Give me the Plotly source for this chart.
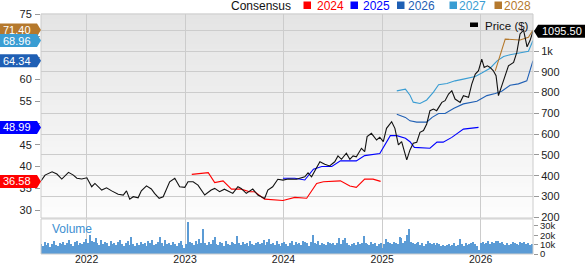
import plotly.graph_objects as go
import pandas as pd

# ---------------- data ----------------
price_dates = [
    "2021-07-16", "2021-07-31", "2021-08-26", "2021-09-13", "2021-10-01", "2021-10-26",
    "2021-11-13", "2021-11-26", "2021-12-14", "2022-01-02", "2022-01-20", "2022-02-01",
    "2022-02-26", "2022-03-16", "2022-04-04", "2022-04-28", "2022-05-17", "2022-05-29",
    "2022-06-10", "2022-06-23", "2022-07-11", "2022-07-23", "2022-08-11", "2022-08-29",
    "2022-09-10", "2022-09-27", "2022-10-12", "2022-11-05", "2022-11-24", "2022-12-12",
    "2022-12-31", "2023-01-12", "2023-01-31", "2023-02-18", "2023-03-15", "2023-04-08",
    "2023-04-21", "2023-05-09", "2023-05-27", "2023-06-15", "2023-06-27", "2023-07-16",
    "2023-07-28", "2023-08-16", "2023-09-09", "2023-09-28", "2023-10-23", "2023-11-04",
    "2023-11-22", "2023-12-11", "2023-12-30", "2024-01-18", "2024-02-05", "2024-02-18",
    "2024-03-20", "2024-04-01", "2024-04-14", "2024-05-15", "2024-06-02", "2024-06-20",
    "2024-07-09", "2024-07-21", "2024-08-03", "2024-08-21", "2024-09-03", "2024-09-15",
    "2024-09-27", "2024-10-16", "2024-10-28", "2024-11-06", "2024-11-22", "2024-12-11",
    "2024-12-23", "2025-01-05", "2025-01-17", "2025-02-05", "2025-02-17", "2025-03-02",
    "2025-03-14", "2025-04-02", "2025-04-14", "2025-04-26", "2025-05-09", "2025-05-21",
    "2025-06-03", "2025-06-15", "2025-06-27", "2025-07-10", "2025-07-22", "2025-08-10",
    "2025-08-22", "2025-09-04", "2025-09-16", "2025-09-28", "2025-10-17", "2025-10-29",
    "2025-11-17", "2025-11-29", "2025-12-12", "2025-12-24", "2026-01-05", "2026-01-14",
    "2026-01-26", "2026-02-05", "2026-02-17", "2026-02-27", "2026-03-08", "2026-03-20",
    "2026-04-02", "2026-04-14", "2026-05-03", "2026-05-15", "2026-05-27", "2026-06-09",
    "2026-06-22", "2026-07-03", "2026-07-14",
]
price_values = [
    375, 403, 419, 408, 384, 416,
    403, 388, 384, 390, 347, 363,
    331, 342, 327, 311, 307, 327,
    287, 299, 294, 327, 351, 336,
    315, 291, 299, 371, 388, 347,
    344, 371, 371, 355, 307, 331,
    339, 323, 335, 323, 315, 347,
    339, 315, 336, 307, 291, 331,
    347, 383, 379, 384, 384, 383,
    395, 414, 395, 467, 455, 447,
    467, 495, 479, 508, 479, 495,
    491, 532, 516, 588, 604, 572,
    585, 564, 628, 660, 628, 548,
    564, 476, 524, 556, 561, 609,
    617, 649, 713, 721, 713, 753,
    761, 793, 809, 769, 753, 785,
    777, 841, 889, 905, 961, 921,
    929, 921, 905, 881, 785, 833,
    881, 929, 945, 993, 1082, 1100,
    1020, 1050, 1095.50,
]

eps2024_dates = ["2023-01-26", "2023-03-28", "2023-04-21", "2023-05-22", "2023-06-22",
                 "2023-07-28", "2023-08-28", "2023-09-16", "2023-10-23", "2023-12-30",
                 "2024-02-12", "2024-03-27", "2024-05-03", "2024-05-28", "2024-07-30",
                 "2024-09-03", "2024-09-27", "2024-10-28", "2024-11-28", "2024-12-26"]
eps2024_values = [38.2, 38.6, 36.3, 36.7, 34.8, 34.8, 34.2, 34.2, 32.5, 32.2,
                  32.9, 32.7, 36.1, 36.5, 36.7, 35.5, 35.2, 37.1, 37.1, 36.58]

eps2025_dates = ["2023-12-30", "2024-02-12", "2024-03-20", "2024-04-21", "2024-05-22",
                 "2024-06-28", "2024-07-30", "2024-09-27", "2024-10-28", "2024-12-23",
                 "2025-01-31", "2025-02-24", "2025-03-28", "2025-04-14", "2025-04-30",
                 "2025-06-27", "2025-07-23", "2025-08-15", "2025-09-16", "2025-10-29",
                 "2025-12-24"]
eps2025_values = [37.3, 37.3, 36.9, 39.4, 40.0, 40.0, 41.3, 41.3, 42.5, 43.0,
                  47.1, 47.1, 46.5, 45.7, 44.4, 44.2, 45.6, 45.6, 46.7, 48.6, 48.99]

eps2026_dates = ["2025-02-24", "2025-03-28", "2025-04-14", "2025-05-09", "2025-06-15",
                 "2025-07-05", "2025-07-29", "2025-08-22", "2025-09-24", "2025-10-29",
                 "2025-12-18", "2026-01-24", "2026-02-24", "2026-03-20", "2026-04-20",
                 "2026-05-21", "2026-06-21", "2026-07-14"]
eps2026_values = [52.0, 51.3, 50.5, 50.2, 50.2, 51.3, 52.2, 52.2, 53.4, 54.4,
                  55.0, 56.3, 56.8, 57.3, 58.7, 59.0, 59.7, 64.34]

eps2027_dates = ["2025-02-24", "2025-03-28", "2025-04-14", "2025-04-26", "2025-05-21",
                 "2025-06-15", "2025-07-10", "2025-07-29", "2025-08-29", "2025-09-28",
                 "2025-10-29", "2025-12-12", "2026-01-05", "2026-02-05", "2026-03-03",
                 "2026-03-27", "2026-04-20", "2026-05-15", "2026-06-27", "2026-07-14"]
eps2027_values = [57.4, 57.8, 56.4, 54.8, 54.5, 55.3, 57.1, 58.8, 59.1, 59.7,
                  60.1, 60.7, 61.5, 62.6, 64.3, 65.3, 65.7, 66.0, 66.5, 68.96]

eps2028_dates = ["2026-02-24", "2026-04-02", "2026-05-27", "2026-06-27", "2026-07-14"]
eps2028_values = [62.0, 69.3, 69.1, 69.7, 71.40]

volume_start = "2021-07-16"
volume_k = [
    11, 9, 13, 10, 12, 8, 11, 14, 10, 9, 12, 11, 13,
    10, 12, 15, 11, 9, 13, 14, 10, 12, 11, 13, 16, 12,
    20, 14, 13, 17, 12, 10, 15, 11, 13, 12, 9, 14, 11,
    12, 10, 13, 15, 11, 9, 12, 14, 10, 18, 11, 9, 12,
    10, 13, 11, 12, 9, 14, 12, 15, 10, 11, 13, 18, 12,
    9, 15, 11, 12, 10, 13, 11, 9, 12, 14, 10, 6, 11,
    34, 13, 12, 10, 14, 11, 16, 12, 27, 12, 10, 13, 11,
    15, 18, 11, 10, 13, 12, 9, 14, 11, 10, 13, 12, 11,
    19, 12, 10, 13, 11, 12, 9, 14, 11, 10, 12, 13, 11,
    12, 15, 10, 13, 16, 11, 12, 10, 14, 11, 9, 12, 13,
    11, 9, 12, 14, 10, 13, 11, 12, 10, 14, 13, 12, 9,
    13, 20, 12, 11, 14, 10, 12, 11, 10, 13, 12, 11, 12,
    10, 12, 17, 11, 15, 17, 12, 10, 9, 11, 12, 10, 13,
    11, 12, 19, 12, 11, 10, 13, 11, 12, 9, 11, 12, 6,
    11, 16, 13, 12, 11, 13, 12, 11, 18, 17, 12, 14, 20,
    27, 13, 12, 11, 12, 13, 10, 12, 9, 11, 14, 12, 11,
    12, 10, 12, 11, 9, 10, 9, 10, 11, 9, 10, 12, 9,
    10, 16, 11, 9, 12, 10, 11, 12, 13, 11, 9, 4, 12,
    13, 11, 12, 14, 11, 13, 12, 14, 14, 12, 13, 11, 10,
    12, 10, 11, 13, 12, 11, 10, 13, 12, 13, 11, 12, 10,
    11,
]
volume_dates = pd.date_range(volume_start, periods=len(volume_k), freq="7D")

left_ticks = [30, 35, 40, 45, 50, 55, 60, 65, 70, 75]
left_labels = ["30", "35", "40", "45", "", "55", "60", "", "", "75"]  # 50/65/70 sit under badges
right_ticks = [200, 300, 400, 500, 600, 700, 800, 900, 1000, 1100]
right_labels = ["200", "300", "400", "500", "600", "700", "800", "900", "1k", ""]
vol_ticks = [0, 10, 20, 30]
vol_labels = ["0", "10k", "20k", "30k"]

# ---------------- style ----------------
FONT = "Liberation Sans, Arial, sans-serif"
W, H = 585, 264
ML, MR, MT, MB = 41, 52, 14, 10
PW, PH = W - ML - MR, H - MT - MB
VOL_FRAC = 0.15
GRID = "#cccccc"

C2024 = "#ff0000"
C2025 = "#0000ff"
C2026 = "#1f5fb4"
C2027 = "#3a9dd3"
C2028 = "#b5792d"
CVOL = "#5b9bd5"


def px(x):
    return (x - ML) / PW


def py(y):
    return (H - MB - y) / PH


fig = go.Figure()

fig.add_trace(go.Bar(x=volume_dates, y=volume_k, xaxis="x", yaxis="y3",
                     marker=dict(color=CVOL, line=dict(width=0)), width=5.2 * 86400000,
                     showlegend=False, hoverinfo="skip"))

for d, v, c in [(eps2024_dates, eps2024_values, C2024),
                (eps2025_dates, eps2025_values, C2025),
                (eps2026_dates, eps2026_values, C2026),
                (eps2027_dates, eps2027_values, C2027),
                (eps2028_dates, eps2028_values, C2028)]:
    fig.add_trace(go.Scatter(x=d, y=v, mode="lines", line=dict(color=c, width=1.1),
                             xaxis="x", yaxis="y", showlegend=False))

fig.add_trace(go.Scatter(x=price_dates, y=price_values, mode="lines",
                         line=dict(color="#111111", width=1.1),
                         xaxis="x", yaxis="y2", showlegend=False))

shapes = []
# gradient background for price panel
n = 40
for i in range(n):
    f0 = i / n
    f1 = (i + 1) / n
    t = (f0 + f1) / 2  # 0 bottom -> 1 top
    g = int(round(253 - (253 - 228) * t))
    shapes.append(dict(type="rect", xref="paper", yref="paper",
                       x0=0, x1=1, y0=VOL_FRAC + (1 - VOL_FRAC) * f0,
                       y1=VOL_FRAC + (1 - VOL_FRAC) * f1 + 0.002,
                       fillcolor=f"rgb({g},{g},{g})", line=dict(width=0), layer="below"))
# borders
shapes.append(dict(type="rect", xref="paper", yref="paper", x0=0, x1=1, y0=VOL_FRAC, y1=1,
                   line=dict(color=GRID, width=1), layer="above"))
shapes.append(dict(type="rect", xref="paper", yref="paper", x0=0, x1=1, y0=0, y1=VOL_FRAC - 0.004,
                   line=dict(color=GRID, width=1), layer="above"))

annotations = []
# left badges
for val, col, txt in [(71.40, C2028, "71.40"), (68.96, C2027, "68.96"), (64.34, C2026, "64.34"),
                      (48.99, C2025, "48.99"), (36.58, C2024, "36.58")]:
    shapes.append(dict(type="path", xref="paper", yref="y", xsizemode="pixel", ysizemode="pixel",
                       xanchor=0, yanchor=val,
                       path="M-41,-6.5 L-4,-6.5 L0,0 L-4,6.5 L-41,6.5 Z",
                       fillcolor=col, line=dict(width=0), layer="above"))
    annotations.append(dict(xref="paper", yref="y", x=0, y=val, xanchor="left", yanchor="middle",
                            xshift=-40, text=txt, showarrow=False,
                            font=dict(family=FONT, size=11, color="white")))
# right price badge
shapes.append(dict(type="path", xref="paper", yref="y2", xsizemode="pixel", ysizemode="pixel",
                   xanchor=1, yanchor=price_values[-1],
                   path="M1,0 L5,-6.5 L52,-6.5 L52,6.5 L5,6.5 Z",
                   fillcolor="#000000", line=dict(width=0), layer="above"))
annotations.append(dict(xref="paper", yref="y2", x=1, y=price_values[-1], xanchor="left",
                        yanchor="middle", xshift=7, text=f"{price_values[-1]:.2f}", showarrow=False,
                        font=dict(family=FONT, size=11, color="white")))

# top legend
annotations.append(dict(xref="paper", yref="paper", x=px(229), y=py(5.5), xanchor="left",
                        yanchor="middle", text="Consensus", showarrow=False,
                        font=dict(family=FONT, size=12, color="#111111")))
for x_sq, x_tx, col, txt in [(303.5, 315, C2024, "2024"), (350.5, 361, C2025, "2025"),
                             (397, 405.5, C2026, "2026"), (449.5, 456.5, C2027, "2027"),
                             (494.5, 501.5, C2028, "2028")]:
    shapes.append(dict(type="rect", xref="paper", yref="paper", x0=px(x_sq), x1=px(x_sq + 7.5),
                       y0=py(9), y1=py(1.5), fillcolor=col, line=dict(width=0)))
    annotations.append(dict(xref="paper", yref="paper", x=px(x_tx), y=py(5.5), xanchor="left",
                            yanchor="middle", text=txt, showarrow=False,
                            font=dict(family=FONT, size=12, color=col)))

# price legend inside plot
shapes.append(dict(type="rect", xref="paper", yref="paper", x0=px(470), x1=px(478),
                   y0=py(27), y1=py(22.5), fillcolor="#000000", line=dict(width=0)))
annotations.append(dict(xref="paper", yref="paper", x=px(483), y=py(25.5), xanchor="left",
                        yanchor="middle", text="Price ($)", showarrow=False,
                        font=dict(family=FONT, size=11.5, color="#111111")))
# Volume label
annotations.append(dict(xref="paper", yref="paper", x=px(50), y=py(229), xanchor="left",
                        yanchor="middle", text="Volume", showarrow=False,
                        font=dict(family=FONT, size=12, color="#3d8fd1")))

tickfont = dict(family=FONT, size=11, color="#222222")

fig.update_layout(
    width=W, height=H,
    margin=dict(l=ML, r=MR, t=MT, b=MB, pad=0),
    paper_bgcolor="white", plot_bgcolor="white",
    showlegend=False, bargap=0,
    shapes=shapes, annotations=annotations,
    xaxis=dict(type="date", range=["2021-07-16", "2026-07-14"], anchor="y3",
               dtick="M12", tick0="2022-01-01", tickformat="%Y",
               showgrid=True, gridcolor=GRID, gridwidth=1, zeroline=False,
               ticks="", showline=False, tickfont=dict(family=FONT, size=10.5, color="#222222"),
               automargin=False, ticklabelstandoff=-3),
    yaxis=dict(domain=[VOL_FRAC, 1], range=[28.16, 75.07], side="left",
               tickvals=left_ticks, ticktext=left_labels, showgrid=False, zeroline=False,
               ticks="outside", ticklen=5, tickcolor="#999999",
               tickfont=tickfont, automargin=False, ticklabelstandoff=1),
    yaxis2=dict(overlaying="y", side="right", anchor="x", range=[196.6, 1178],
                tickvals=right_ticks, ticktext=right_labels,
                showgrid=True, gridcolor=GRID, gridwidth=1, zeroline=False,
                ticks="outside", ticklen=5, tickcolor="#999999",
                tickfont=tickfont, automargin=False),
    yaxis3=dict(domain=[0, VOL_FRAC - 0.004], side="right", anchor="x", range=[0, 37.5],
                tickvals=vol_ticks, ticktext=vol_labels, showgrid=False, zeroline=False,
                ticks="outside", ticklen=4, tickcolor="#999999",
                tickfont=dict(family=FONT, size=9.5, color="#222222"), automargin=False),
)

fig.write_html("out.html")
